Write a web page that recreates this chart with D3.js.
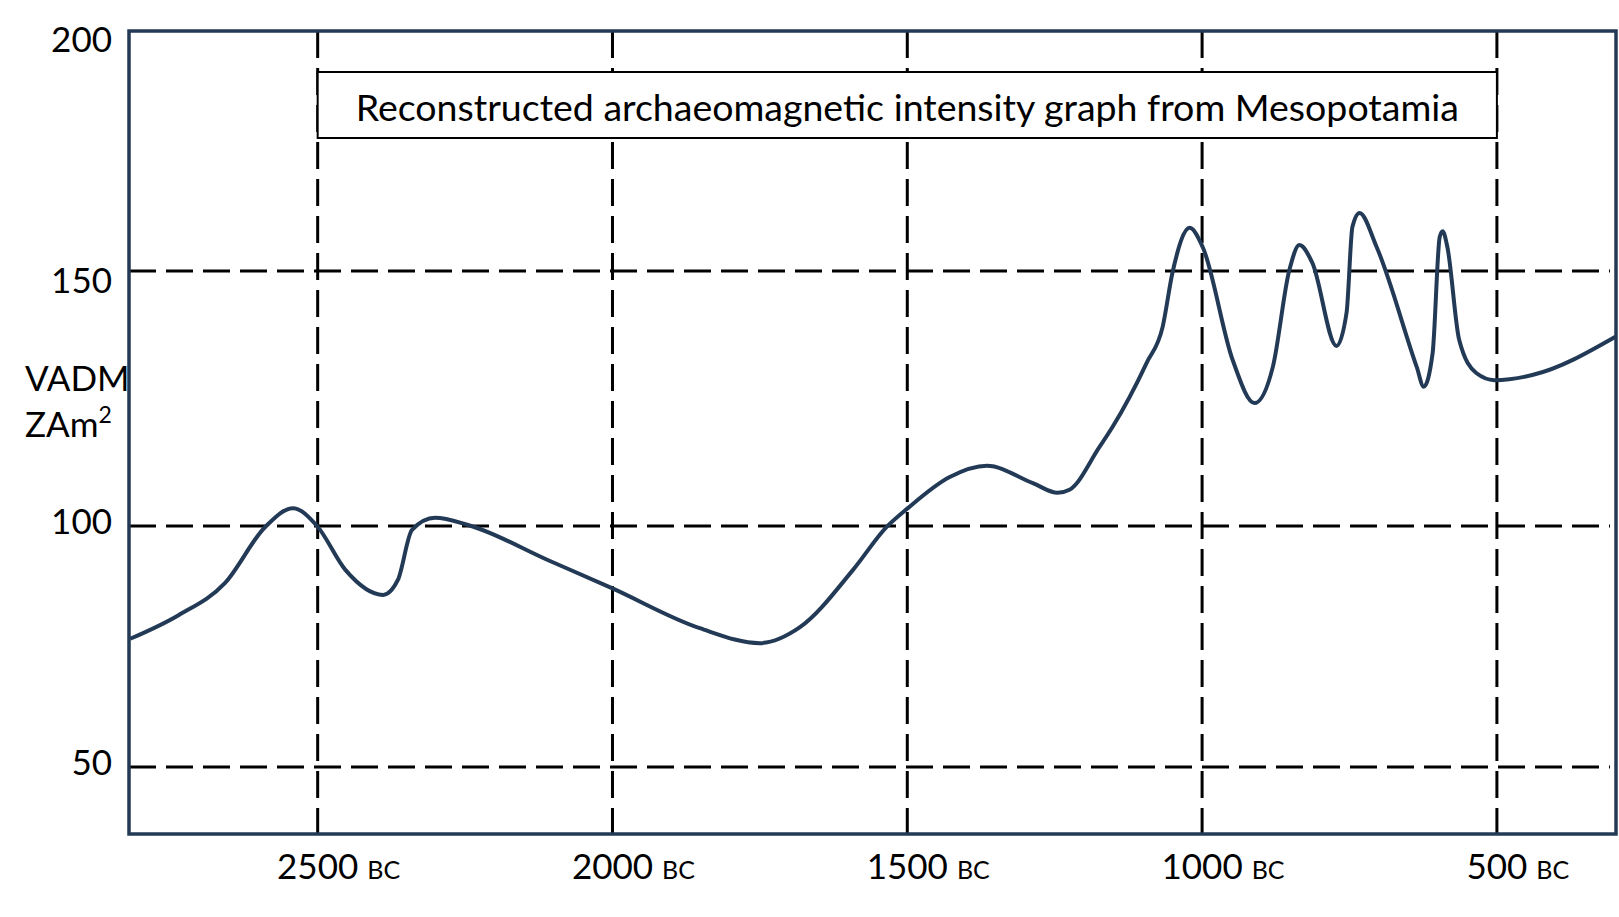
<!DOCTYPE html>
<html>
<head>
<meta charset="utf-8">
<script src="https://cdn.jsdelivr.net/npm/d3@7"></script>
<style>
  body { margin:0; background:white; }
  text { font-family: Lato, "Open Sans", sans-serif; fill:#000; }
</style>
</head>
<body>
<svg id="graph"></svg>
<script>
// years BC (left = older) and VADM
var years = [2818, 2736, 2657, 2589, 2542, 2501, 2453, 2389, 2364, 2340, 2301, 2245, 2109, 2001,
             1852, 1750, 1682, 1592, 1535, 1499, 1428, 1365, 1287, 1245, 1225, 1174, 1152, 1094,
             1067, 1050, 1021, 999, 948, 911, 880, 852, 835, 813, 772, 755, 745, 733, 704,
             636, 624, 609, 597, 592, 584, 564, 535, 504, 440, 299];
var vadm = [76.6, 81.5, 88.2, 99.8, 103.5, 100, 90.9, 85.7, 88.8, 99.2, 101.6, 100.2, 92.9, 87.1,
            78.8, 75.7, 79.0, 90.9, 99.8, 103.5, 109.6, 111.8, 108.4, 106.5, 107.1, 115.5, 119.4, 132.0,
            139.0, 149.8, 159.0, 155, 132.5, 124.1, 131.2, 150.2, 155.4, 151.7, 135.3, 141.8, 159.2, 162.1, 155,
            131.2, 127.3, 133.9, 157.1, 158.3, 155, 136.5, 130, 128.6, 129.6, 137.1];

var xTicks = [2500, 2000, 1500, 1000, 500];
var yTicks = [200, 150, 100, 50];
var titleText = "Reconstructed archaeomagnetic intensity graph from Mesopotamia";

var drawChart = function(svgSelector)
{
  var screen = {width:1619, height:917};
  var frame = {left:129, top:31, right:1616, bottom:834};
  var navy = "#233a56";

  var svg = d3.select(svgSelector)
              .attr("width", screen.width)
              .attr("height", screen.height);

  var xScale = d3.scaleLinear()
                 .domain([2820, 298])
                 .range([frame.left, frame.right]);

  // the drawn grid is not evenly spaced, so use a piecewise scale
  var yScale = d3.scaleLinear()
                 .domain([36, 50, 100, 150, 200])
                 .range([frame.bottom, 767, 526, 271, frame.top]);

  // the tick labels themselves are evenly spaced
  var labelScale = d3.scaleLinear()
                     .domain([50, 200])
                     .range([761, 38]);

  // horizontal grid (200 sits on the frame)
  svg.append("g").selectAll("line")
     .data(yTicks.filter(function(v){ return v < 200; }))
     .enter().append("line")
     .attr("x1", frame.left)
     .attr("x2", 1610)
     .attr("y1", function(v){ return yScale(v); })
     .attr("y2", function(v){ return yScale(v); })
     .style("stroke", "black")
     .style("stroke-width", 3)
     .style("stroke-dasharray", "27,10");

  svg.append("g").selectAll("line")
     .data(xTicks)
     .enter().append("line")
     .attr("x1", function(d){ return xScale(d); })
     .attr("x2", function(d){ return xScale(d); })
     .attr("y1", frame.top)
     .attr("y2", frame.bottom)
     .style("stroke", "black")
     .style("stroke-width", 3)
     .style("stroke-dasharray", "27,10");

  // title box spans 2500 -> 500
  var boxTop = 72, boxBottom = 138;
  svg.append("rect")
     .attr("x", xScale(2500))
     .attr("y", boxTop)
     .attr("width", xScale(500) - xScale(2500))
     .attr("height", boxBottom - boxTop)
     .attr("fill", "white")
     .style("stroke", "black")
     .style("stroke-width", 2);

  svg.append("text")
     .attr("x", (xScale(2500) + xScale(500)) / 2)
     .attr("y", (boxTop + boxBottom) / 2 + 1)
     .attr("text-anchor", "middle")
     .attr("dominant-baseline", "central")
     .attr("font-size", 37.5)
     .text(titleText);

  svg.append("clipPath").attr("id", "plotClip")
     .append("rect")
     .attr("x", frame.left).attr("y", frame.top)
     .attr("width", frame.right - frame.left)
     .attr("height", frame.bottom - frame.top);

  var points = years.map(function(y, i){ return {year:y, v:vadm[i]}; });

  var line = d3.line()
               .x(function(d){ return xScale(d.year); })
               .y(function(d){ return yScale(d.v); })
               .curve(d3.curveMonotoneX);

  svg.append("path")
     .datum(points)
     .attr("clip-path", "url(#plotClip)")
     .attr("d", line)
     .attr("fill", "none")
     .style("stroke", navy)
     .style("stroke-width", 4)
     .style("stroke-linejoin", "round");

  // frame
  svg.append("rect")
     .attr("x", frame.left)
     .attr("y", frame.top)
     .attr("width", frame.right - frame.left)
     .attr("height", frame.bottom - frame.top)
     .attr("fill", "none")
     .style("stroke", navy)
     .style("stroke-width", 3.5);

  // y labels
  svg.append("g").selectAll("text")
     .data(yTicks)
     .enter().append("text")
     .attr("x", 112)
     .attr("y", function(v){ return labelScale(v); })
     .attr("text-anchor", "end")
     .attr("dominant-baseline", "central")
     .attr("font-size", 35)
     .text(function(v){ return v; });

  var yTitle = svg.append("text")
                  .attr("x", 25)
                  .attr("font-size", 35);
  yTitle.append("tspan").attr("x", 25).attr("y", 391).text("VADM");
  yTitle.append("tspan").attr("x", 25).attr("y", 437).text("ZAm");
  yTitle.append("tspan").attr("font-size", 23).attr("dy", -14).text("2");

  // x labels: number centred on the gridline, small "BC" after it
  var xLabels = svg.append("g").selectAll("g")
                   .data(xTicks)
                   .enter().append("g");

  xLabels.append("text")
         .attr("class", "num")
         .attr("x", function(d){ return xScale(d); })
         .attr("y", 879)
         .attr("text-anchor", "middle")
         .attr("font-size", 35)
         .text(function(d){ return d; });

  xLabels.each(function(d){
    var g = d3.select(this);
    var w = g.select("text.num").node().getComputedTextLength();
    g.append("text")
     .attr("x", xScale(d) + w / 2 + 9)
     .attr("y", 879)
     .attr("font-size", 25)
     .text("BC");
  });
}

drawChart("#graph");
</script>
</body>
</html>
